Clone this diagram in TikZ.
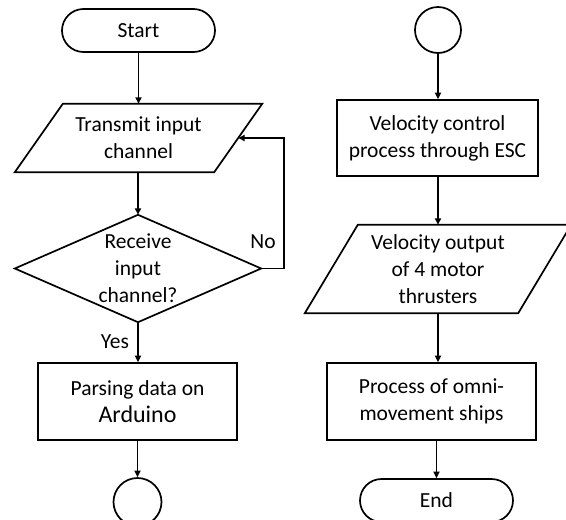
\documentclass[tikz,border=0pt]{standalone}
\usepackage{fontspec}
\setmainfont{Carlito}
\usetikzlibrary{arrows.meta,shapes.misc,calc}
\begin{document}
\begin{tikzpicture}[x=1pt,y=-1pt,
  every node/.style={font=\fontsize{21.5}{27}\selectfont, align=center, inner sep=0pt},
  box/.style={draw, line width=1.7pt, rectangle},
  term/.style={draw, line width=1.7pt, rounded rectangle},
  conn/.style={draw, line width=1.7pt, circle},
  holder/.style={rectangle},
  outline/.style={line width=1.7pt, line join=miter},
  arr/.style={line width=1.7pt, -{Triangle[length=6.5pt,width=6pt]}}
]
\fill[white] (0,0) rectangle (566,520);
\useasboundingbox (0,0) rectangle (566,520);

% left column
\node[term, minimum width=153pt, minimum height=43pt] (start) at (138.5,30.5) {Start};
\node[holder, minimum width=247pt, minimum height=68pt] (p1) at (138.5,138) {Transmit input\\channel};
\draw[outline] ($(p1.north west)+(48,0)$) -- (p1.north east) -- ($(p1.south east)+(-48,0)$) -- (p1.south west) -- cycle;
\node[holder, minimum width=246pt, minimum height=107pt] (dec) at (138,268.5) {Receive\\input\\channel?};
\draw[outline] (dec.north) -- (dec.east) -- (dec.south) -- (dec.west) -- cycle;
\node[box, minimum width=199pt, minimum height=77pt] (r1) at (137.5,401.5) {Parsing data on\\{\fontsize{24}{27}\selectfont Arduino}};
\node[conn, minimum size=48pt] (c1) at (137.5,502) {};
\node (no) at (263,242) {No};
\node (yes) at (115,342) {Yes};

% right column
\node[conn, minimum size=46pt] (c2) at (438,30) {};
\node[box, minimum width=201pt, minimum height=76pt] (r2) at (437.5,138) {Velocity control\\process through ESC};
\node[holder, minimum width=266pt, minimum height=88pt] (p2) at (438,269) {Velocity output\\of 4 motor\\thrusters};
\draw[outline] ($(p2.north west)+(53,0)$) -- (p2.north east) -- ($(p2.south east)+(-53,0)$) -- (p2.south west) -- cycle;
\node[box, minimum width=209pt, minimum height=77pt] (r3) at (431.5,401.5) {Process of omni-\\movement ships};
\node[term, minimum width=153pt, minimum height=43pt] (end) at (436.5,500.5) {End};

% connectors
\draw[arr] (start.south) -- (start.south |- p1.north);
\draw[arr] (p1.south -| dec.north) -- (dec.north);
\draw[arr] (dec.south) -- (dec.south |- r1.north);
\draw[arr] (dec.east) -- ++(23,0) |- ($(p1.east)+(-24,0)$);
\draw[arr] (r1.south) -- (r1.south |- c1.north);
\draw[arr] (c2.south) -- (c2.south |- r2.north);
\draw[arr] (r2.south -| p2.north) -- (p2.north);
\draw[arr] (p2.south) -- (p2.south |- r3.north);
\draw[arr] (r3.south -| end.north) -- (end.north);
\end{tikzpicture}
\end{document}
